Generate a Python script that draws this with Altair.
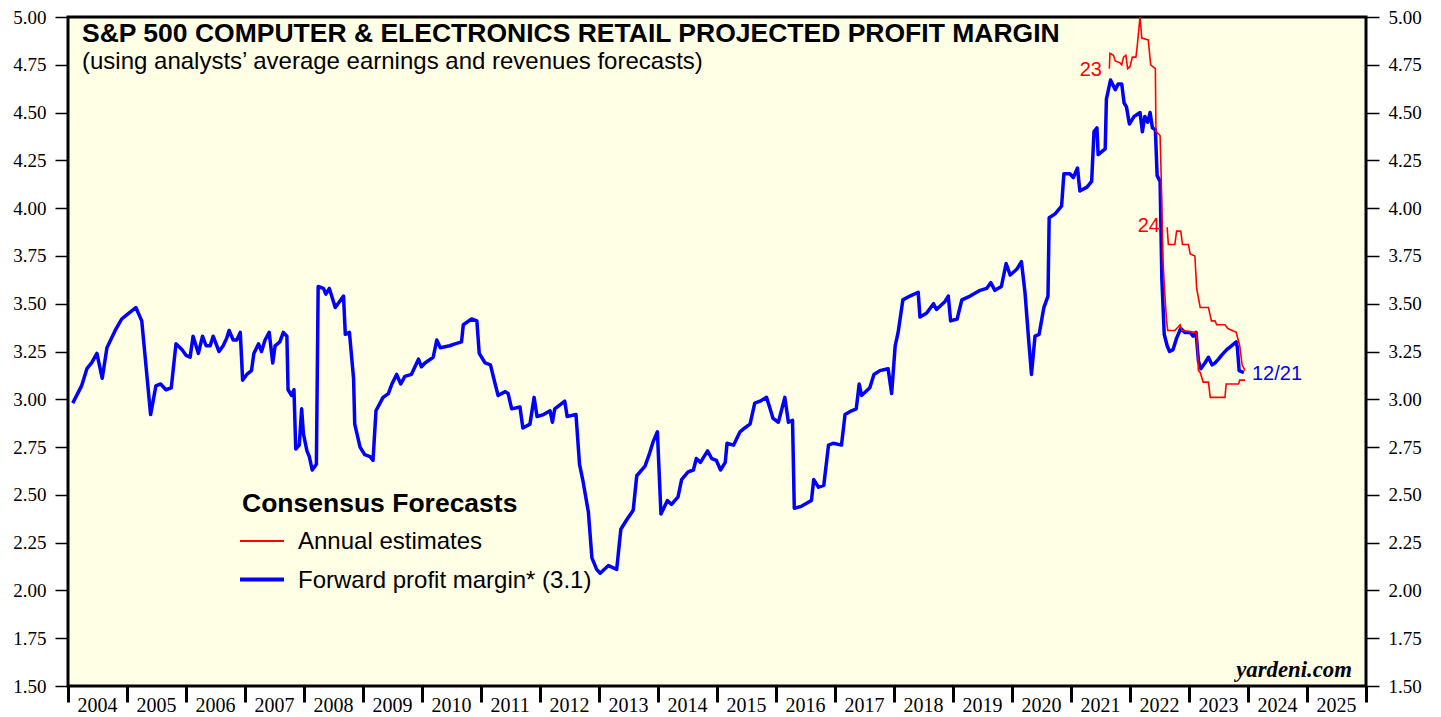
import altair as alt
import pandas as pd

# ---- data (decimal years, profit margin %) ----
blue_dates = [
    2004.08, 2004.23, 2004.32, 2004.40, 2004.49, 2004.58, 2004.66, 2004.80, 2004.91, 2004.99,
    2005.15, 2005.25, 2005.40, 2005.49, 2005.57, 2005.66, 2005.75, 2005.83, 2005.93, 2006.00,
    2006.07, 2006.12, 2006.17, 2006.21, 2006.28, 2006.34, 2006.41, 2006.46, 2006.51, 2006.56,
    2006.63, 2006.69, 2006.73, 2006.80, 2006.86, 2006.92, 2006.96, 2007.03, 2007.11, 2007.15,
    2007.23, 2007.28, 2007.34, 2007.41, 2007.47, 2007.51, 2007.59, 2007.65, 2007.71, 2007.73,
    2007.79, 2007.83, 2007.86, 2007.92, 2007.96, 2007.99, 2008.05, 2008.09, 2008.14, 2008.21,
    2008.24, 2008.33, 2008.37, 2008.43, 2008.53, 2008.67, 2008.70, 2008.77, 2008.84, 2008.86,
    2008.95, 2009.03, 2009.12, 2009.17, 2009.22, 2009.34, 2009.43, 2009.49, 2009.57, 2009.64,
    2009.71, 2009.82, 2009.94, 2009.99, 2010.05, 2010.19, 2010.25, 2010.31, 2010.47, 2010.56,
    2010.67, 2010.70, 2010.84, 2010.93, 2010.97, 2011.07, 2011.16, 2011.24, 2011.29, 2011.41,
    2011.46, 2011.52, 2011.66, 2011.71, 2011.83, 2011.90, 2011.95, 2012.06, 2012.17, 2012.21,
    2012.25, 2012.42, 2012.46, 2012.61, 2012.67, 2012.73, 2012.82, 2012.88, 2012.96, 2013.02,
    2013.16, 2013.30, 2013.37, 2013.47, 2013.58, 2013.64, 2013.78, 2013.86, 2013.92, 2013.99,
    2014.05, 2014.16, 2014.23, 2014.34, 2014.40, 2014.51, 2014.60, 2014.65, 2014.72, 2014.84,
    2014.91, 2014.99, 2015.06, 2015.14, 2015.17, 2015.28, 2015.39, 2015.47, 2015.56, 2015.64,
    2015.73, 2015.84, 2015.90, 2015.95, 2016.04, 2016.15, 2016.21, 2016.28, 2016.31, 2016.43,
    2016.60, 2016.64, 2016.72, 2016.81, 2016.89, 2016.97, 2017.11, 2017.17, 2017.28, 2017.36,
    2017.41, 2017.45, 2017.59, 2017.66, 2017.76, 2017.90, 2017.96, 2018.02, 2018.07, 2018.15,
    2018.27, 2018.41, 2018.44, 2018.55, 2018.67, 2018.72, 2018.86, 2018.92, 2018.96, 2019.07,
    2019.15, 2019.29, 2019.46, 2019.57, 2019.64, 2019.71, 2019.82, 2019.90, 2019.97, 2020.08,
    2020.16, 2020.22, 2020.28, 2020.33, 2020.39, 2020.46, 2020.50, 2020.54, 2020.61, 2020.63,
    2020.73, 2020.84, 2020.88, 2020.98, 2021.04, 2021.11, 2021.15, 2021.27, 2021.35, 2021.39,
    2021.44, 2021.46, 2021.58, 2021.60, 2021.67, 2021.75, 2021.80, 2021.86, 2021.90, 2021.94,
    2021.99, 2022.07, 2022.12, 2022.17, 2022.21, 2022.25, 2022.30, 2022.34, 2022.38, 2022.43,
    2022.46, 2022.51, 2022.54, 2022.58, 2022.63, 2022.67, 2022.73, 2022.79, 2022.86, 2022.93,
    2023.02, 2023.07, 2023.12, 2023.16, 2023.20, 2023.27, 2023.33, 2023.39, 2023.44, 2023.50,
    2023.55, 2023.64, 2023.72, 2023.80, 2023.82, 2023.85, 2023.93,
]
blue_values = [
    2.98, 3.07, 3.16, 3.19, 3.24, 3.11, 3.27, 3.36, 3.42, 3.44,
    3.48, 3.41, 2.92, 3.07, 3.08, 3.05, 3.06, 3.29, 3.26, 3.23,
    3.22, 3.33, 3.28, 3.24, 3.33, 3.28, 3.28, 3.33, 3.29, 3.25,
    3.28, 3.32, 3.36, 3.31, 3.31, 3.35, 3.10, 3.13, 3.15, 3.24,
    3.29, 3.25, 3.31, 3.35, 3.19, 3.28, 3.30, 3.35, 3.33, 3.05,
    3.02, 3.05, 2.74, 2.76, 2.95, 2.82, 2.73, 2.70, 2.63, 2.66,
    3.59, 3.58, 3.55, 3.58, 3.48, 3.54, 3.34, 3.35, 3.11, 2.87,
    2.75, 2.71, 2.70, 2.68, 2.94, 3.01, 3.03, 3.08, 3.13, 3.08,
    3.12, 3.13, 3.21, 3.17, 3.19, 3.22, 3.31, 3.27, 3.28, 3.29,
    3.30, 3.39, 3.42, 3.41, 3.24, 3.19, 3.18, 3.08, 3.02, 3.04,
    3.03, 2.95, 2.96, 2.85, 2.87, 3.01, 2.91, 2.92, 2.94, 2.88,
    2.95, 2.99, 2.91, 2.92, 2.66, 2.57, 2.41, 2.17, 2.11, 2.09,
    2.13, 2.11, 2.32, 2.37, 2.42, 2.60, 2.65, 2.72, 2.78, 2.83,
    2.40, 2.47, 2.45, 2.49, 2.58, 2.62, 2.63, 2.69, 2.67, 2.73,
    2.69, 2.68, 2.63, 2.67, 2.77, 2.76, 2.83, 2.85, 2.87, 2.98,
    2.99, 3.01, 2.95, 2.90, 2.88, 3.01, 2.88, 2.89, 2.43, 2.44,
    2.47, 2.58, 2.54, 2.55, 2.76, 2.77, 2.76, 2.92, 2.94, 2.95,
    3.08, 3.02, 3.06, 3.13, 3.15, 3.16, 3.03, 3.28, 3.35, 3.52,
    3.54, 3.56, 3.43, 3.45, 3.50, 3.47, 3.51, 3.54, 3.41, 3.42,
    3.52, 3.54, 3.57, 3.58, 3.61, 3.57, 3.59, 3.71, 3.65, 3.68,
    3.72, 3.56, 3.32, 3.13, 3.33, 3.34, 3.41, 3.48, 3.54, 3.95,
    3.97, 4.01, 4.18, 4.18, 4.16, 4.21, 4.09, 4.11, 4.14, 4.40,
    4.42, 4.28, 4.31, 4.57, 4.67, 4.62, 4.65, 4.65, 4.55, 4.53,
    4.44, 4.48, 4.49, 4.50, 4.40, 4.48, 4.45, 4.50, 4.42, 4.41,
    4.17, 4.14, 3.63, 3.34, 3.28, 3.25, 3.26, 3.32, 3.37, 3.35,
    3.35, 3.33, 3.35, 3.20, 3.16, 3.19, 3.22, 3.18, 3.19, 3.21,
    3.23, 3.26, 3.28, 3.30, 3.27, 3.15, 3.14,
]

red23_dates = [
    2021.65, 2021.66, 2021.72, 2021.75, 2021.83, 2021.86, 2021.89, 2021.93, 2021.96, 2022.00,
    2022.04, 2022.10, 2022.12, 2022.17, 2022.20, 2022.31, 2022.35, 2022.43, 2022.44, 2022.51,
    2022.53, 2022.56, 2022.59, 2022.62, 2022.64, 2022.76, 2022.85, 2022.88, 2023.13, 2023.16,
    2023.19, 2023.24, 2023.33, 2023.36, 2023.61, 2023.63, 2023.84, 2023.86, 2023.95,
]
red23_values = [
    4.73, 4.81, 4.80, 4.77, 4.76, 4.75, 4.79, 4.80, 4.73, 4.74,
    4.79, 4.79, 4.84, 5.00, 4.89, 4.88, 4.75, 4.73, 4.40, 4.38,
    4.15, 3.72, 3.55, 3.41, 3.36, 3.36, 3.39, 3.36, 3.35, 3.15,
    3.14, 3.09, 3.09, 3.01, 3.01, 3.08, 3.08, 3.10, 3.10,
]

red24_dates = [
    2022.63, 2022.65, 2022.76, 2022.79, 2022.86, 2022.89, 2022.99, 2023.02, 2023.10, 2023.13,
    2023.16, 2023.19, 2023.33, 2023.38, 2023.44, 2023.47, 2023.61, 2023.66, 2023.80, 2023.86,
    2023.90, 2023.95,
]
red24_values = [
    3.90, 3.81, 3.81, 3.88, 3.88, 3.81, 3.81, 3.76, 3.75, 3.58,
    3.53, 3.48, 3.48, 3.41, 3.41, 3.39, 3.39, 3.37, 3.35, 3.28,
    3.18, 3.15,
]

year_ticks = list(range(2004, 2027))
y_ticks = [1.50, 1.75, 2.00, 2.25, 2.50, 2.75, 3.00, 3.25, 3.50, 3.75, 4.00, 4.25, 4.50, 4.75, 5.00]

blue_df = pd.DataFrame({"date": blue_dates, "value": blue_values})
red_df = pd.concat([
    pd.DataFrame({"date": red23_dates, "value": red23_values, "series": "23"}),
    pd.DataFrame({"date": red24_dates, "value": red24_values, "series": "24"}),
])

W, H = 1298, 669
SERIF = "Liberation Serif"
SANS = "Liberation Sans"
DY = -3  # shift of annotation y positions (plot top moved down 3px)

x_enc = alt.X(
    "date:Q",
    scale=alt.Scale(domain=[2004, 2026], nice=False, zero=False),
    axis=alt.Axis(
        values=year_ticks, format="d",
        labelExpr="datum.value < 2026 ? datum.label : ''",
        labelAlign="left", labelOffset=9, labelBaseline="top",
        tickSize=16, tickWidth=3, tickColor="black",
        labelPadding=-7, labelFont=SERIF, labelFontSize=20, labelColor="black",
        domain=False, grid=False, title=None,
        labelFlush=False, labelOverlap=False, labelBound=False,
    ),
)

def y_enc(orient):
    return alt.Y(
        "value:Q",
        scale=alt.Scale(domain=[1.5, 5.0], nice=False, zero=False),
        axis=alt.Axis(
            orient=orient, values=y_ticks, format=".2f",
            tickSize=13, tickWidth=1.5, tickColor="black",
            labelPadding=9, labelFont=SERIF, labelFontSize=19, labelColor="black",
            domain=False, grid=False, title=None, labelFlush=False, labelOverlap=False,
        ),
    )

blue_line = alt.Chart(blue_df).mark_line(color="#0000FF", strokeWidth=3.5, strokeJoin="round").encode(
    x=x_enc, y=y_enc("left"), order="date:Q"
)
red_line = alt.Chart(red_df).mark_line(color="#FF0000", strokeWidth=1.6).encode(
    x=x_enc, y=y_enc("right"), detail="series:N", order="date:Q"
)


def txt(s, x, y, size, color="black", weight="normal", font=SANS, align="left", style="normal"):
    return alt.Chart(pd.DataFrame({"t": [s]})).mark_text(
        align=align, baseline="alphabetic", fontSize=size, font=font,
        fontWeight=weight, fontStyle=style, color=color,
    ).encode(x=alt.value(x), y=alt.value(y + DY), text="t:N")


def seg(x1, x2, y, color, width):
    return alt.Chart(pd.DataFrame({"a": [0]})).mark_rule(color=color, strokeWidth=width).encode(
        x=alt.value(x1), x2=alt.value(x2), y=alt.value(y + DY)
    )

texts = [
    txt("S&P 500 COMPUTER & ELECTRONICS RETAIL PROJECTED PROFIT MARGIN", 14, 28, 26.5, weight="bold"),
    txt("(using analysts\u2019 average earnings and revenues forecasts)", 14, 55, 24),
    txt("Consensus Forecasts", 174, 498, 26.5, weight="bold"),
    txt("Annual estimates", 230, 535, 24),
    txt("Forward profit margin* (3.1)", 230, 574, 24),
    txt("23", 1034, 62, 20, color="#FF0000", align="right"),
    txt("24", 1092, 218, 20, color="#FF0000", align="right"),
    txt("12/21", 1184, 366, 20, color="#0000FF"),
    txt("yardeni.com", 1284, 663, 22.8, weight="bold", font=SERIF, align="right", style="italic"),
]
legend = [
    seg(172, 216, 527, "#FF0000", 2),
    seg(172, 216, 565.5, "#0000FF", 4),
]

chart = alt.layer(blue_line, red_line, *legend, *texts).resolve_scale(y="independent").properties(
    width=W, height=H,
    background="white",
    autosize=alt.AutoSizeParams(type="none"),
    padding={"left": 60, "top": 9, "right": 57, "bottom": 30},
).configure_view(
    fill="#FFFFE6", stroke="black", strokeWidth=3
)

chart.save("out.html", embed_options={"renderer": "svg", "actions": False})
